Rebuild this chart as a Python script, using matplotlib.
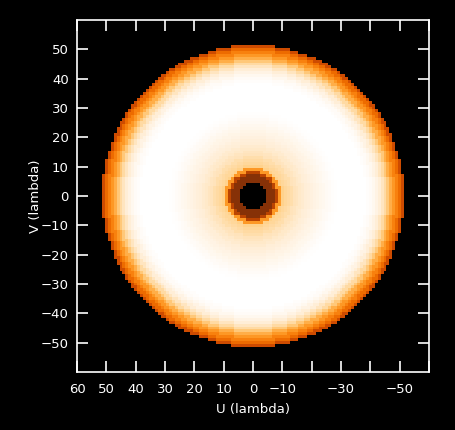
import numpy as np
import matplotlib
matplotlib.use("Agg")
import matplotlib.pyplot as plt
from matplotlib.colors import LinearSegmentedColormap

# Radial profile of the UV-coverage density, one value per integer radius (lambda)
profile = [0.0, 0.0, 0.0, 0.0, 0.0,          # 0-4 hole
           0.3, 0.3, 0.3,                    # 5-7 brown ring
           0.45, 0.68,                       # 8-9 ring edge
           0.80, 0.82, 0.83, 0.84, 0.86,     # 10-14
           0.87, 0.88, 0.89, 0.90, 0.91,     # 15-19
           0.92, 0.93, 0.94, 0.95, 0.96,     # 20-24
           0.97, 0.98, 0.99, 0.995, 1.0,     # 25-29
           1.0, 1.0, 1.0, 1.0, 1.0,          # 30-34
           1.0, 1.0, 1.0, 1.0, 0.99,         # 35-39
           0.98, 0.96, 0.93, 0.90, 0.87,     # 40-44
           0.83, 0.78, 0.73, 0.68, 0.63,     # 45-49
           0.58, 0.50, 0.0]                  # 50-52

x_ticks = [60, 50, 40, 30, 20, 10, 0, -10, -20, -30, -40, -50, -60]
x_tick_labels = ["60", "50", "40", "30", "20", "10", "0", "\u221210", "", "\u221230", "", "\u221250", ""]
y_ticks = [-50, -40, -30, -20, -10, 0, 10, 20, 30, 40, 50]
y_tick_labels = ["\u221250", "\u221240", "\u221230", "\u221220", "\u221210", "0", "10", "20", "30", "40", "50"]

colors = [(0.0, (0, 0, 0)),
          (0.3, (135/255, 50/255, 8/255)),
          (0.5, (205/255, 75/255, 0)),
          (0.6, (245/255, 115/255, 0)),
          (0.7, (1, 160/255, 45/255)),
          (0.8, (1, 210/255, 140/255)),
          (0.9, (1, 238/255, 215/255)),
          (1.0, (1, 1, 1))]
cmap = LinearSegmentedColormap.from_list("uvheat", colors)

grid = np.arange(-60, 61)
U, V = np.meshgrid(grid, grid)
R = np.rint(np.sqrt(U**2 + V**2)).astype(int)
prof = np.array(profile)
img = np.where(R < len(prof), prof[np.clip(R, 0, len(prof) - 1)], 0.0)

fig = plt.figure(figsize=(4.55, 4.30), dpi=100, facecolor="black")
ax = fig.add_axes([77/455, 1 - 372/430, 352/455, 352/430])
ax.set_facecolor("black")
ax.imshow(img, cmap=cmap, vmin=0, vmax=1, origin="lower",
          extent=[-60.5, 60.5, -60.5, 60.5], interpolation="nearest", aspect="auto")
ax.set_xlim(60, -60)
ax.set_ylim(-60, 60)

for s in ax.spines.values():
    s.set_color("white")
    s.set_linewidth(1.2)

ax.set_xticks(x_ticks)
ax.set_xticklabels(x_tick_labels)
ax.set_yticks(y_ticks)
ax.set_yticklabels(y_tick_labels)
ax.tick_params(direction="in", length=8, width=1.2, color="white", labelcolor="white",
               labelsize=9.5, top=True, right=True)
ax.tick_params(axis="x", pad=8)
ax.tick_params(axis="y", pad=6)

ax.set_xlabel("U (lambda)", color="white", fontsize=9.5, va="center")
ax.set_ylabel("V (lambda)", color="white", fontsize=9.5, va="center")
ax.xaxis.set_label_coords(0.5, (372 - 410) / 352)
ax.yaxis.set_label_coords((35 - 77) / 352, 0.5)

fig.savefig("out.png", dpi=100, facecolor="black")
